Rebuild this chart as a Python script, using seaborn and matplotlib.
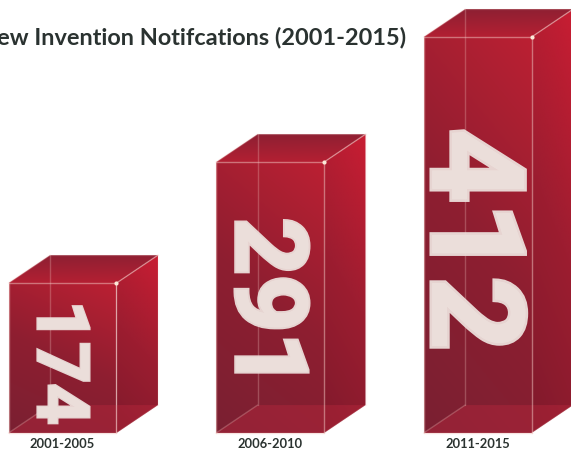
import numpy as np
import pandas as pd
import seaborn as sns
import matplotlib.pyplot as plt
import matplotlib.patheffects as pe
from matplotlib.colors import LinearSegmentedColormap
from matplotlib.patches import Polygon

periods = ["2001-2005", "2006-2010", "2011-2015"]
notifications = [174, 291, 412]
chart_title = "New Invention Notifcations (2001-2015)"

# The value axis starts above zero, so the boxes rise from this level.
BASE = 29
BAR_WIDTH = 0.52
DEPTH_X = 0.2
DEPTH_Y = 27

sns.set_theme(style="white")
plt.rcParams["font.family"] = ["Lato", "DejaVu Sans"]

frame = pd.DataFrame({"period": periods, "count": notifications})
fig = plt.figure(figsize=(5.71, 4.51), dpi=100, facecolor="white")
ax = fig.add_axes([0, 0, 1, 1])

sns.barplot(data=frame.assign(height=frame["count"] - BASE), x="period", y="height",
            bottom=BASE, width=BAR_WIDTH, color="#a81f33", saturation=1, ax=ax)
ax.set_xlim(-0.301, 2.45)
ax.set_ylim(11.6, 447.8)
ax.axis("off")

front_cmap = LinearSegmentedColormap.from_list("front", ["#7a2032", "#8e1e30", "#bb2033"])
side_cmap = LinearSegmentedColormap.from_list("side", ["#801a2c", "#9c1d30", "#c81d33"])
top_cmap = LinearSegmentedColormap.from_list("top", ["#8c2033", "#b61f32"])
EDGE = "#f3c9c4"


def shade(poly, cmap, extent, mix_x, mix_y):
    """Fill a face with a diagonal gradient clipped to its outline."""
    xx, yy = np.meshgrid(np.linspace(0, 1, 60), np.linspace(0, 1, 60))
    grad = np.clip(mix_x * xx + mix_y * yy + (0 if mix_y >= 0 else -mix_y), 0, 1)
    im = ax.imshow(grad, cmap=cmap, vmin=0, vmax=1, extent=extent, origin="lower",
                   aspect="auto", zorder=2, interpolation="bilinear")
    patch = Polygon(poly, closed=True, transform=ax.transData, fc="none", ec="none")
    ax.add_patch(patch)
    im.set_clip_path(patch)


for bar, value, period in zip(ax.patches, notifications, periods):
    x0 = bar.get_x()
    x1 = x0 + bar.get_width()
    bar.set_visible(False)
    x0b, x1b = x0 + DEPTH_X, x1 + DEPTH_X
    y0b, y1b = BASE + DEPTH_Y, value + DEPTH_Y

    # Front, right side and top faces of the box.
    shade([(x0, BASE), (x1, BASE), (x1, value), (x0, value)], front_cmap,
          (x0, x1, BASE, value), 0.25, 0.75)
    shade([(x1, BASE), (x1b, y0b), (x1b, y1b), (x1, value)], side_cmap,
          (x1, x1b, BASE, y1b), 0.2, 0.8)
    shade([(x0, value), (x1, value), (x1b, y1b), (x0b, y1b)], top_cmap,
          (x0, x1b, value, y1b), 0.1, -0.9)

    # Floor seen through the box, a lighter red than the wall behind it.
    ax.add_patch(Polygon([(x0, BASE), (x1, BASE), (x1b, y0b), (x0b, y0b)], closed=True,
                         fc="#c42a40", alpha=0.35, ec="none", zorder=3))

    # Glass-like edges: the strong ones face the viewer, the far ones barely show.
    strong = [((x0, BASE), (x1, BASE)), ((x0, BASE), (x0, value)), ((x1, BASE), (x1, value)),
              ((x0, value), (x1, value)), ((x1, value), (x1b, y1b))]
    medium = [((x0b, y0b), (x0b, y1b)), ((x0, BASE), (x0b, y0b)), ((x0, value), (x0b, y1b))]
    faint = [((x1, BASE), (x1b, y0b)), ((x1b, y0b), (x1b, y1b)), ((x0b, y1b), (x1b, y1b))]
    for segments, alpha in ((strong, 0.5), (medium, 0.28), (faint, 0.14)):
        for a, b in segments:
            ax.plot(*zip(a, b), color=EDGE, alpha=alpha, lw=1, zorder=4)
    ax.plot([x1], [value], marker="o", ms=3, mec="none", mfc="#fbe9d8", zorder=5)

    # Period label under the box.
    ax.text((x0 + x1) / 2, BASE - 4.5, period, ha="center", va="top",
            fontsize=9.3, fontweight="bold", color="#2b3330", zorder=6)

# Value figures read downwards along each front face.
label_style = dict(rotation=-90, ha="center", va="center", fontweight="bold",
                   family=["Roboto", "DejaVu Sans"], color="#ecdfdb", alpha=0.95, zorder=6)
big_labels = [(-0.025, 97, 52, 2), (0.97, 154, 72, 3), (1.955, 216, 93, 4)]
for value, (x, y, size, stroke) in zip(notifications, big_labels):
    label = ax.text(x, y, str(value), fontsize=size, **label_style)
    label.set_path_effects([pe.withStroke(linewidth=stroke, foreground="#ecdfdb",
                                          joinstyle="miter")])

fig.text(406 / 571, 1 - 38 / 451, chart_title, ha="right", va="center",
         fontsize=16.9, fontweight="bold", color="#2a3230")

fig.savefig("out.png", dpi=100, facecolor="white")
